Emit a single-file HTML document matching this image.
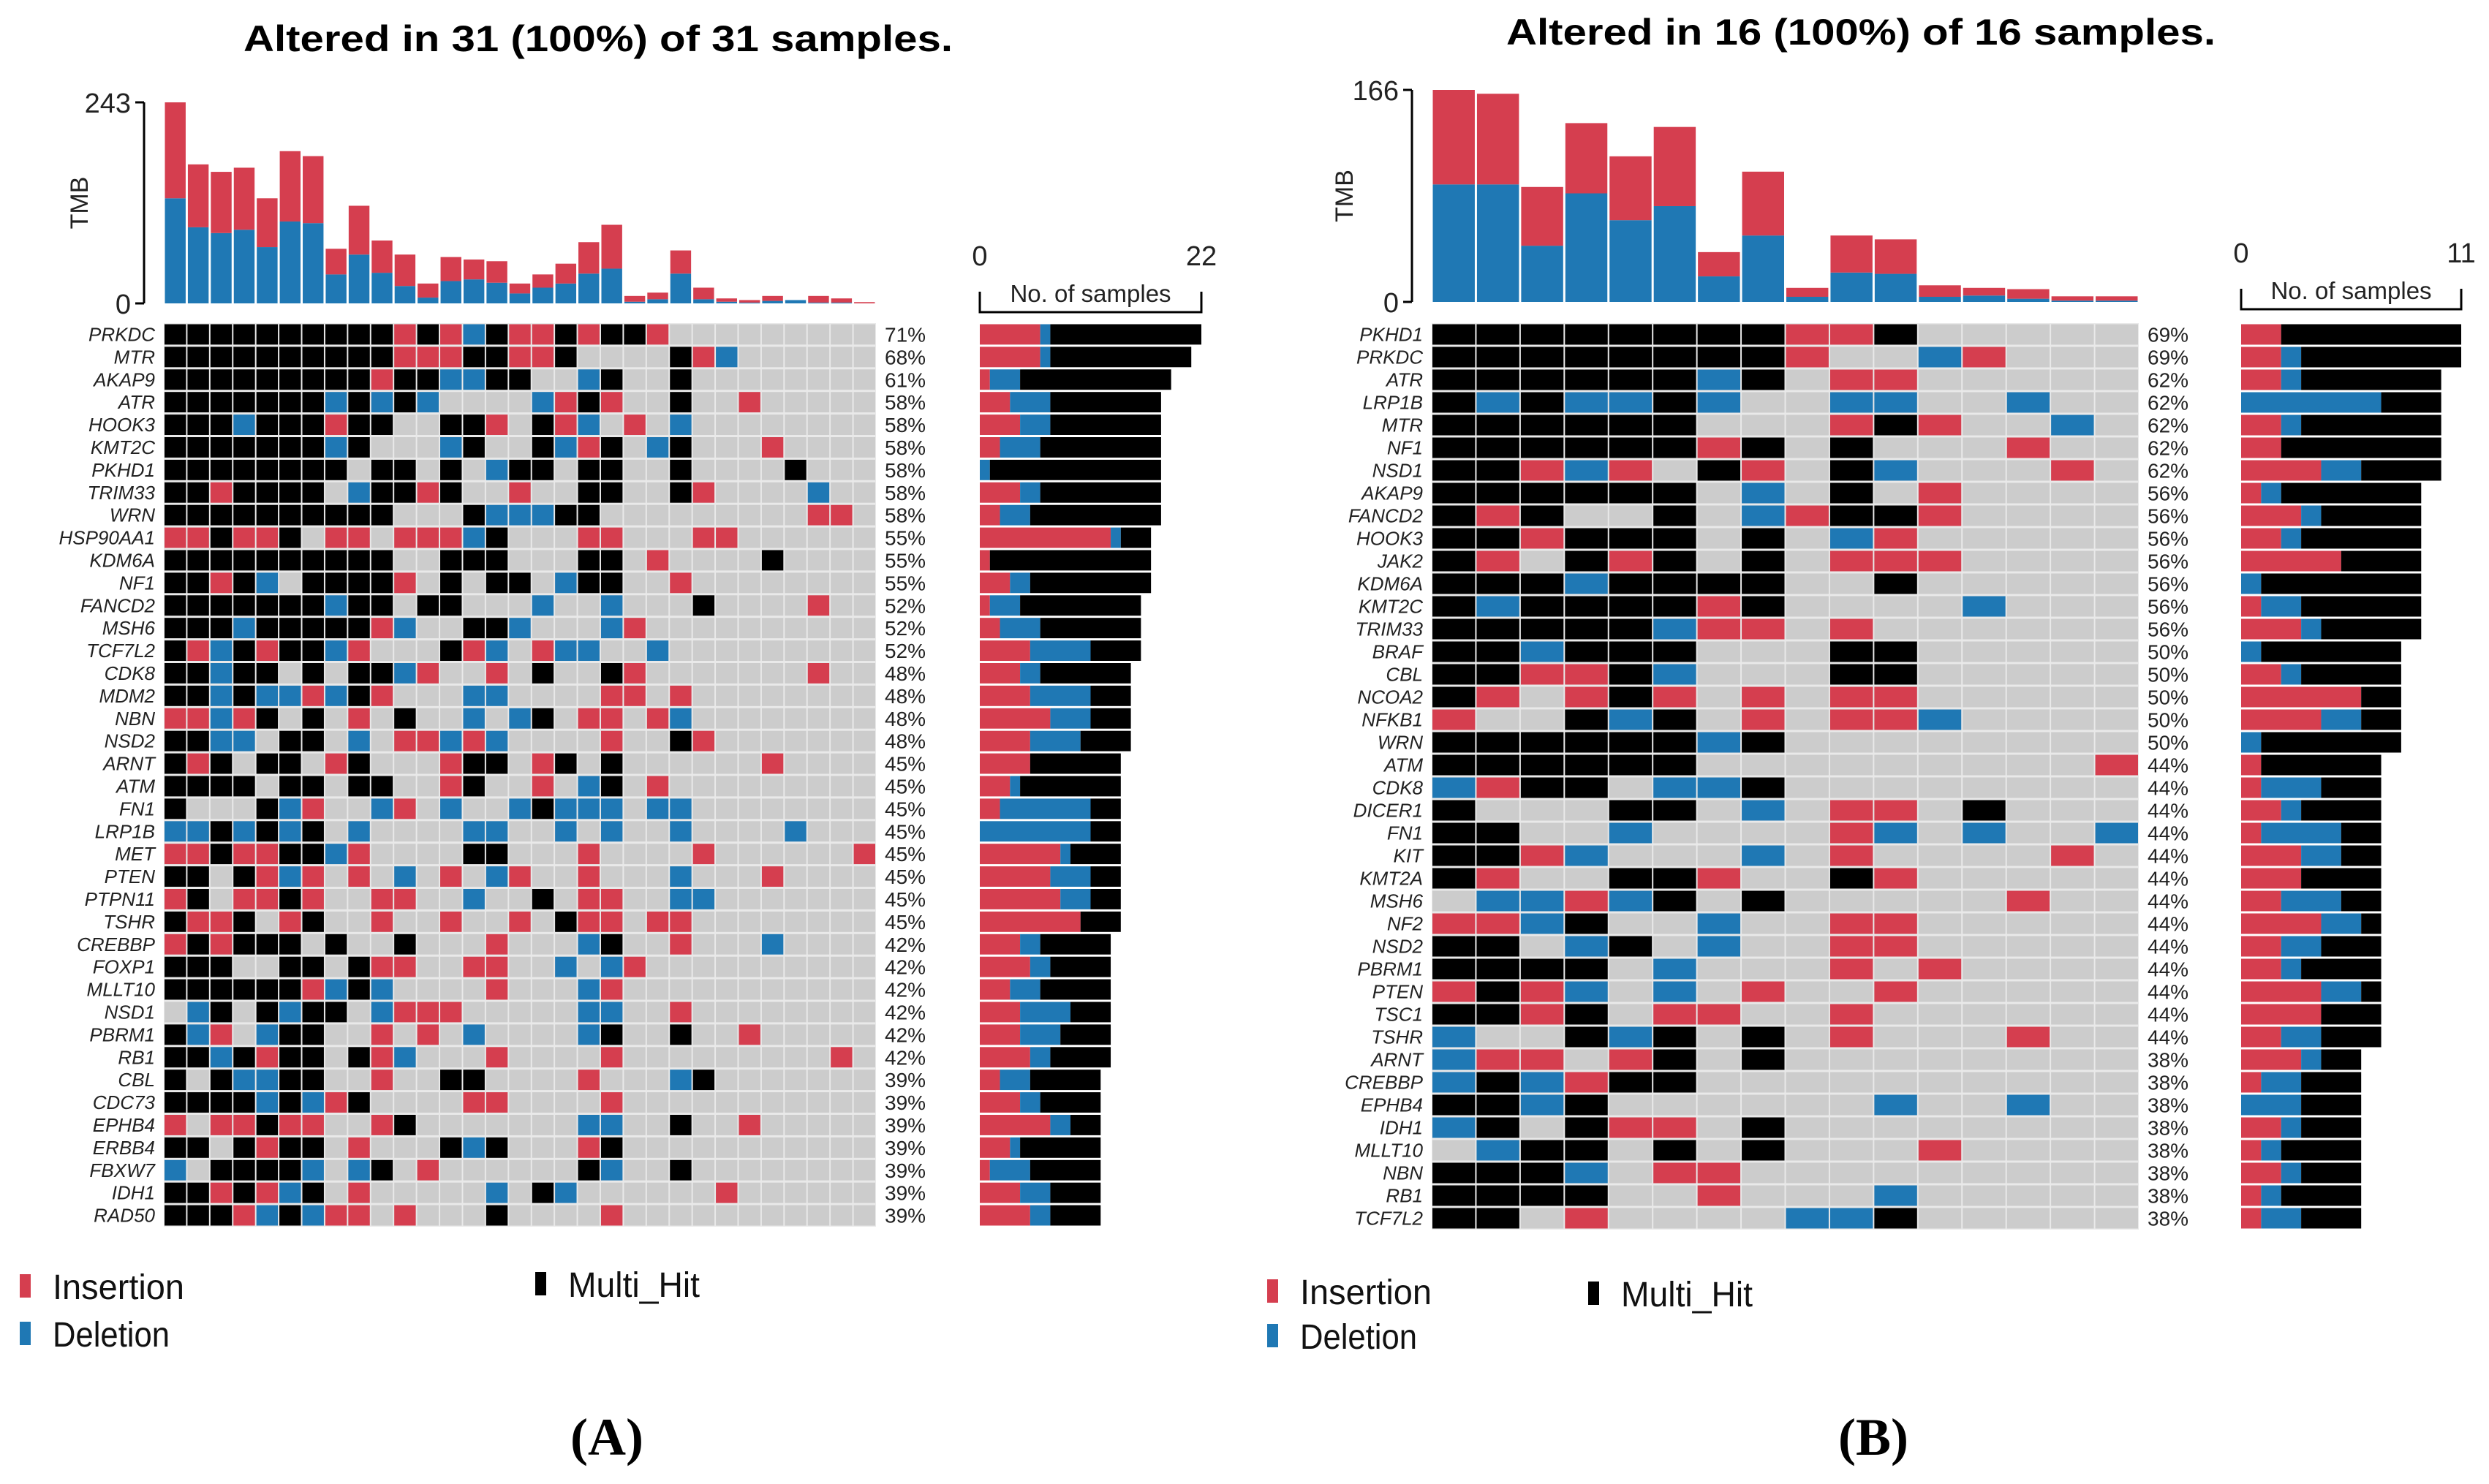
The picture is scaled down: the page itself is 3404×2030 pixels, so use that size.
<!DOCTYPE html>
<html><head><meta charset="utf-8"><style>
html,body{margin:0;padding:0;background:#fff;}
svg{display:block;}
text{font-family:"Liberation Sans",sans-serif;}
</style></head><body>
<svg id="root" width="3404" height="2030" viewBox="0 0 3404 2030" xmlns="http://www.w3.org/2000/svg">
<text x="818" y="70" text-anchor="middle" font-size="50" font-weight="bold" textLength="970" lengthAdjust="spacingAndGlyphs">Altered in 31 (100%) of 31 samples.</text>
<text x="2545" y="61" text-anchor="middle" font-size="50" font-weight="bold" textLength="970" lengthAdjust="spacingAndGlyphs">Altered in 16 (100%) of 16 samples.</text>
<g id="panelA"></g>
<g id="panelB"></g>
<text x="830" y="1990" text-anchor="middle" font-size="72" font-weight="bold" style="font-family:'Liberation Serif',serif">(A)</text>
<text x="2562" y="1990" text-anchor="middle" font-size="72" font-weight="bold" style="font-family:'Liberation Serif',serif">(B)</text>
</svg>
<script>
// ---------- Panel A data ----------
const genesA = ["PRKDC","MTR","AKAP9","ATR","HOOK3","KMT2C","PKHD1","TRIM33","WRN","HSP90AA1","KDM6A","NF1","FANCD2","MSH6","TCF7L2","CDK8","MDM2","NBN","NSD2","ARNT","ATM","FN1","LRP1B","MET","PTEN","PTPN11","TSHR","CREBBP","FOXP1","MLLT10","NSD1","PBRM1","RB1","CBL","CDC73","EPHB4","ERBB4","FBXW7","IDH1","RAD50"];
const rowsA = [
"MMMMMMMMMMIMIDMIIMIMMI.........",
"MMMMMMMMMMIIIMMIIM....MID......",
"MMMMMMMMMIMMDDMM..DM..M........",
"MMMMMMMDMDMD....DIMI..M..I.....",
"MMMDMMMIMM..MMI.MID.I.D........",
"MMMMMMMDM...DM..MDIM.DM...I....",
"MMMMMMMM.MM.M.DMM.MM..M....M...",
"MMIMMMM.DMMIM..I..MM..MI....D..",
"MMMMMMMMMM...MDDDMM.........II.",
"IIMIIM.II.IIIDM...II...II......",
"MMMMMMMMMM..MMM...MM.I....M....",
"MMIMD.MMMMI.M.MM.DMM..I........",
"MMMMMMMDMM.MM...D..D...M....I..",
"MMMDMMMMMID..MMD...DI..........",
"MIDMIMMDI...MID.IDD..D.........",
"MMDMM.M.MMDI..I.M..MI.......I..",
"MMDMDDIDMI...DD....II.I........",
"IIDIM.M.I.M..D.DM.II.ID........",
"MMDD.MM.D.IIDID....I..MI.......",
"MIM.MM.IM...IMM.IM.M......I....",
"MMMM.MM.MM..IM..I.DM.I.........",
"M...MDI..DI.D..DMDDD.DD........",
"DDMDMDM.D....DD..D.D..D....D...",
"IIMIIMMDI....MM...I....I......I",
"MM.MIDI.I.D.I.DI..I...D...I....",
"IM.IIMI..II..D..M.II..DD.......",
"MIIM.IM..I..I..I.MII.II........",
"IMIMMM.M..M...I...DM..I...D....",
"MMM..MM.MII..II..D.DI..........",
"MMMMMMIDMD....I...DI...........",
".DM.MDMM.DIII.....DD..I........",
"MDI.DMM..I.I.D....DM..M..I.....",
"MMDMIMM.MID...I....I.........I.",
"M.MDDMM..I..MM....I...DM.......",
"MMMMDMDIM....II....I...........",
"I.IIMII..IM.......DD..M..I.....",
"MM.MIMM.I...MDM...IM...........",
"D.MMMMD.DM.I......MD..M........",
"MMIMIDM.I.....D.MD......I......",
"MMMIDMDII.I...M....I..........."];
const tmbDelA = [127,92,85,89,68,99,97,35,59,37,21,7,27,29,25,12,19,24,36,42,2,5,36,5,2,1,3,4,1,1,0];
const tmbInsA = [116,76,74,75,59,85,81,31,59,39,38,17,29,24,26,12,16,24,38,53,7,8,28,14,4,3,6,0,8,5,1.5];
const tmbTicksA = [0,243];
const countTicksA = [0,22];

// ---------- Panel B data ----------
const genesB = ["PKHD1","PRKDC","ATR","LRP1B","MTR","NF1","NSD1","AKAP9","FANCD2","HOOK3","JAK2","KDM6A","KMT2C","TRIM33","BRAF","CBL","NCOA2","NFKB1","WRN","ATM","CDK8","DICER1","FN1","KIT","KMT2A","MSH6","NF2","NSD2","PBRM1","PTEN","TSC1","TSHR","ARNT","CREBBP","EPHB4","IDH1","MLLT10","NBN","RB1","TCF7L2"];
const rowsB = [
"MMMMMMMMIIM.....",
"MMMMMMMMI..DI...",
"MMMMMMDM.II.....",
"MDMDDMD..DD..D..",
"MMMMMM...IMI..D.",
"MMMMMMIM.M...I..",
"MMIDI.MI.MD...I.",
"MMMMMM.D.M.I....",
"MIM..M.DIMMI....",
"MMIMMM.M.DI.....",
"MI.MIM.M.III....",
"MMMDMMMM..M.....",
"MDMMMMIM....D...",
"MMMMMDII.I......",
"MMDMMM...MM.....",
"MMIIMD...MM.....",
"MI.IMI.I.II.....",
"I..MDM.I.IID....",
"MMMMMMDM........",
"MMMMMM.........I",
"DIMM.DDM........",
"M...MM.D.II.M...",
"MM..D....ID.D..D",
"MMID...D.I....I.",
"MI..MMI..MI.....",
".DDIDM.M.....I..",
"IIDM..D..II.....",
"MM.DM.D..II.....",
"MMMM.D...I.I....",
"IMID.D.I..I.....",
"MMIM.II..I......",
"D..MDM.M.I...I..",
"DII.IM.M........",
"DMDIMM..........",
"MMDM......D..D..",
"DM.MII.M........",
".DMM.M.M...I....",
"MMMD.II.........",
"MMMM..I...D.....",
"MM.I....DDM....."];
const tmbDelB = [92,92,44,85,64,75,20,52,4,23,22,4,5,2.5,1,1];
const tmbInsB = [74,71,46,55,50,62,19,50,7,29,27,9,6,7.5,3.4,3.4];
const tmbTicksB = [0,166];
const countTicksB = [0,11];

const COL = {I:"#d53e4f", D:"#1f78b4", M:"#000000", ".":"#cccccc"};
const NS = "http://www.w3.org/2000/svg";
function mk(parent, tag, attrs, txt){
  const e = document.createElementNS(NS, tag);
  for (const k in attrs) e.setAttribute(k, attrs[k]);
  if (txt !== undefined) e.textContent = txt;
  parent.appendChild(e);
  return e;
}
function roundHalfEven(x){
  const f = Math.floor(x), d = x - f;
  if (Math.abs(d - 0.5) < 1e-9) return (f % 2 === 0) ? f : f + 1;
  return Math.round(x);
}

function drawPanel(g, cfg, genes, rows, tmbDel, tmbIns, tmbTicks, countTicks){
  const N = rows[0].length;
  const cw = (cfg.x1 - cfg.x0) / N;
  const rh = cfg.rh;
  const xCol = i => cfg.x0 + i*cw;
  const yRow = r => cfg.y0 + r*rh;
  const tmbMax = tmbTicks[tmbTicks.length-1];
  const yT = v => cfg.tmbBase - (v / tmbMax) * (cfg.tmbBase - cfg.tmbTop);
  const cntMax = countTicks[countTicks.length-1];
  const xC = v => cfg.cx0 + (v / cntMax) * (cfg.cx1 - cfg.cx0);

  const ax = mk(g, "g", {});
  
  
  mk(ax, "line", {x1:cfg.axX, x2:cfg.axX, y1:yT(tmbMax), y2:yT(0), stroke:"#000", "stroke-width":3});
  tmbTicks.forEach(t => {
    mk(ax, "line", {x1:cfg.axX-12, x2:cfg.axX, y1:yT(t), y2:yT(t), stroke:"#000", "stroke-width":3});
    const tl = mk(ax, "text", {x:cfg.axX-18, y:yT(t)+14, "text-anchor":"end", "font-size":38, fill:"#222"}, String(t));
    
    
  });
  const tt = mk(ax, "text", {x:0, y:0, "text-anchor":"middle", "font-size":34, fill:"#222", transform:`translate(${cfg.tmbLabelX},${(yT(0)+yT(tmbMax))/2}) rotate(-90)`}, "TMB");
  
  

  for (let i=0;i<N;i++){
    const d = tmbDel[i], ins = tmbIns[i];
    const bx = xCol(i)+1.5, bw = cw-3;
    if (d > 0){
      const b = mk(g, "rect", {x:bx, y:yT(d), width:bw, height:yT(0)-yT(d), fill:COL.D});
      
      
    }
    if (ins > 0){
      const r = mk(g, "rect", {x:bx, y:yT(d+ins), width:bw, height:yT(d)-yT(d+ins), fill:COL.I});
      
      
    }
  }

  mk(g, "rect", {x:cfg.x0, y:cfg.y0, width:cfg.x1-cfg.x0, height:rh*rows.length, fill:"#e9e9e9"});

  const ca = mk(g, "g", {});
  
  
  mk(ca, "path", {d:`M${xC(0)} ${cfg.brY-28} V${cfg.brY} H${xC(cntMax)} V${cfg.brY-28}`, fill:"none", stroke:"#000", "stroke-width":3});
  countTicks.forEach(t => {
    const tl = mk(ca, "text", {x:xC(t), y:cfg.brY-64, "text-anchor":"middle", "font-size":38, fill:"#222"}, String(t));
    
    
  });
  const st = mk(ca, "text", {x:(xC(0)+xC(cntMax))/2, y:cfg.brY-14, "text-anchor":"middle", "font-size":33, fill:"#222"}, "No. of samples");
  
  

  rows.forEach((row, r) => {
    const y = yRow(r);
    let cI=0,cD=0,cM=0;
    for (let i=0;i<N;i++){
      const ch = row[i];
      if (ch==="I") cI++; else if (ch==="D") cD++; else if (ch==="M") cM++;
      const c = mk(g, "rect", {x:xCol(i)+1, y:y+1.5, width:cw-2, height:rh-3, fill:COL[ch]});
      
      
    }
    const gl = mk(g, "text", {x:cfg.x0-12, y:y+rh/2+9, "text-anchor":"end", "font-size":26, "font-style":"italic", fill:"#222"}, genes[r]);
    
    
    const tot = cI+cD+cM;
    const pl = mk(g, "text", {x:cfg.x1+12, y:y+rh/2+10, "font-size":28, fill:"#222"}, roundHalfEven(tot/N*100)+"%");
    
    
    let acc = 0;
    [["I",cI],["D",cD],["M",cM]].forEach(([k,v]) => {
      if (v<=0) return;
      const b = mk(g, "rect", {x:xC(acc), y:y+1.5, width:xC(acc+v)-xC(acc), height:rh-3, fill:COL[k]});
      
      
      acc += v;
    });
  });

  const lg = mk(g, "g", {});
  
  
  cfg.legend.forEach(([k,label,lx,ly]) => {
    const e = mk(lg, "g", {});
    
    
    mk(e, "rect", {x:lx, y:ly-17, width:15, height:32, fill:COL[k]});
    mk(e, "text", {x:lx+45, y:ly+17, "font-size":48, fill:"#111", textLength:label.length*20, lengthAdjust:"spacingAndGlyphs"}, label);
  });
}

drawPanel(document.getElementById("panelA"),
  {x0:224, x1:1198, y0:442, rh:30.9, tmbBase:415, tmbTop:140, axX:197, tmbLabelX:120,
   cx0:1340, cx1:1643, brY:427,
   legend:[["I","Insertion",27,1760],["D","Deletion",27,1825],["M","Multi_Hit",732,1757]]},
  genesA, rowsA, tmbDelA, tmbInsA, tmbTicksA, countTicksA);

drawPanel(document.getElementById("panelB"),
  {x0:1958, x1:2925, y0:442, rh:31.0, tmbBase:413, tmbTop:123, axX:1931, tmbLabelX:1850,
   cx0:3065, cx1:3366, brY:423,
   legend:[["I","Insertion",1733,1767],["D","Deletion",1733,1828],["M","Multi_Hit",2172,1770]]},
  genesB, rowsB, tmbDelB, tmbInsB, tmbTicksB, countTicksB);
</script>
</body></html>
